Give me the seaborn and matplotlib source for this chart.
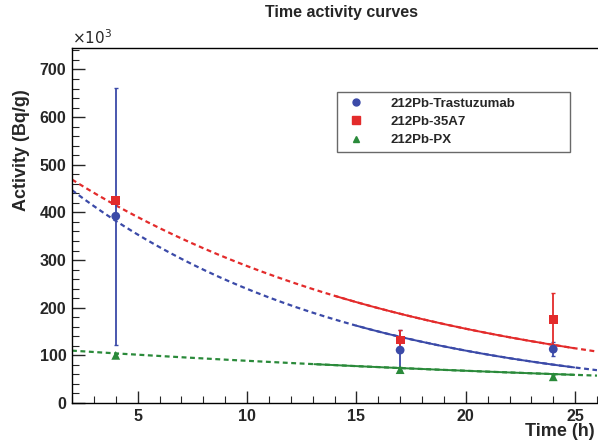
import numpy as np
import pandas as pd
import matplotlib
matplotlib.use("Agg")
import matplotlib.pyplot as plt
import seaborn as sns
from matplotlib.ticker import MultipleLocator

sns.set_style("white")
plt.rcParams['font.family'] = ['Liberation Sans', 'DejaVu Sans']

# Data (activity in units of 10^3 Bq/g)
series = ["212Pb-Trastuzumab", "212Pb-35A7", "212Pb-PX"]
times = [4, 17, 24]
trast_vals = [392, 111, 113]
trast_err = [270, 42, 14]
a35_vals = [425, 132, 176]
a35_err = [0, 22, 55]
px_vals = [100, 70, 55]
px_err = [3, 5, 3]

# Exponential fit parameters (amplitude at t=0, decay constant 1/h)
fit_amp = [522, 530, 116]
fit_k = [0.0779, 0.0612, 0.0270]
fit_solid_start = [15.0, 14.0, 13.0]

colors = ["#3b4aa8", "#e32b2b", "#2a8a3a"]
markers = ["o", "s", "^"]

rows = []
for name, vals, errs in [(series[0], trast_vals, trast_err),
                         (series[1], a35_vals, a35_err),
                         (series[2], px_vals, px_err)]:
    for t, v, e in zip(times, vals, errs):
        rows.append({"series": name, "time": t, "activity": v, "err": e})
df = pd.DataFrame(rows)

fig = plt.figure(figsize=(5.98, 4.43), dpi=100)
ax = fig.add_axes([72/598, 1-403/443, (597-72)/598, (403-48)/443])

xmin, xmax = 2, 26
tt = np.linspace(xmin, xmax, 300)
for i, name in enumerate(series):
    yy = fit_amp[i] * np.exp(-fit_k[i] * tt)
    ax.plot(tt, yy, color=colors[i], lw=1.6, ls=(0, (2.2, 1.6)), zorder=2)
    m = (tt >= fit_solid_start[i]) & (tt <= 25)
    ax.plot(tt[m], yy[m], color=colors[i], lw=1.4, zorder=2)

for i, name in enumerate(series):
    sub = df[df.series == name]
    ax.errorbar(sub.time, sub.activity, yerr=sub.err, fmt="none",
                ecolor=colors[i], elinewidth=1.3, capsize=1.5, zorder=3)

sns.scatterplot(data=df, x="time", y="activity", hue="series", style="series",
                hue_order=series, style_order=series,
                palette=dict(zip(series, colors)), markers=dict(zip(series, markers)),
                s=40, edgecolor="none", ax=ax, zorder=4, legend=False)

ax.set_xlim(xmin, xmax)
ax.set_ylim(0, 745)
ax.xaxis.set_major_locator(MultipleLocator(5))
ax.xaxis.set_minor_locator(MultipleLocator(1))
ax.yaxis.set_major_locator(MultipleLocator(100))
ax.yaxis.set_minor_locator(MultipleLocator(20))
ax.tick_params(axis="both", which="major", direction="in", length=9, width=1,
               labelsize=11.5, pad=4, bottom=True, left=True, top=False, right=False)
ax.tick_params(axis="both", which="minor", direction="in", length=5, width=0.8,
               bottom=True, left=True, top=False, right=False)
for lab in ax.get_xticklabels() + ax.get_yticklabels():
    lab.set_fontweight("bold")
for sp in ax.spines.values():
    sp.set_color("black")
    sp.set_linewidth(1.0)
ax.spines["right"].set_visible(False)

ax.set_xlabel("")
ax.set_ylabel("")
fig.text(595/598, 1-432/443, "Time (h)", ha="right", va="center",
         fontsize=13, fontweight="bold")
fig.text(22/598, 1-150/443, "Activity (Bq/g)", rotation=90, ha="center",
         va="center", fontsize=13, fontweight="bold")
fig.text(72/598, 1-38/443, r"$\times10^{3}$", ha="left", va="center",
         fontsize=11)
fig.text(342/598, 1-12/443, "Time activity curves", ha="center", va="center",
         fontsize=11.5, fontweight="bold")

# Legend
handles = [plt.Line2D([], [], ls="none", marker=markers[i], color=colors[i],
                      markersize=[5, 6, 4][i]) for i in range(3)]
leg = ax.legend(handles, series, loc="center",
                bbox_to_anchor=((337-72)/525, (403-156)/355, (570-337)/525, (156-88)/355),
                mode="expand", frameon=True, fancybox=False,
                borderpad=0.45, labelspacing=0.45, handletextpad=1.6,
                borderaxespad=0.0, prop={"weight": "bold", "size": 9.5})
leg.get_frame().set_edgecolor("#444444")
leg.get_frame().set_linewidth(1.0)

fig.savefig("out.png", dpi=100)
